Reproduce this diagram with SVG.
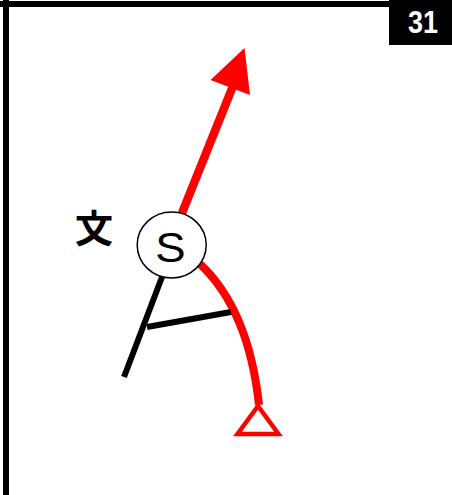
<svg xmlns="http://www.w3.org/2000/svg" width="452" height="495" viewBox="0 0 452 495">
<style>.t{font-family:"Liberation Sans",Arial,sans-serif}</style>
<rect width="452" height="495" fill="#fff"/>
<g id="frame"><rect x="0" y="1" width="452" height="6" fill="#000"/><rect x="3" y="0" width="6" height="495" fill="#000"/></g>
<g id="badge"><rect x="389" y="0" width="63" height="45" fill="#000"/><text class="t" x="408" y="33" font-size="32" font-weight="bold" fill="#fff" textLength="30" lengthAdjust="spacingAndGlyphs">31</text></g>
<g id="connectors" fill="none">
<path d="M182 213L233 86" stroke="#f00" stroke-width="8.5"/>
<polygon points="244.5,48 250,95 210.5,80" fill="#f00"/>
<path d="M200 264C232 294 252 340 259 405" stroke="#f00" stroke-width="8"/>
<path d="M162 277L124 377" stroke="#000" stroke-width="6"/>
<path d="M147 327L231 312" stroke="#000" stroke-width="6"/>
</g>
<g id="marker"><polygon points="258,406 278.5,434 237.5,434" fill="#fff" stroke="#f00" stroke-width="4.5"/></g>
<g id="node-s"><ellipse cx="171.7" cy="245" rx="34.5" ry="33" fill="#fff" stroke="#000" stroke-width="1.5"/><text class="t" x="0" y="0" font-size="43" fill="#000" text-anchor="middle" transform="translate(170.5 261.5) scale(1.06 1)">S</text></g>
<g id="label"><text x="94" y="242" font-size="38" font-weight="bold" fill="#000" text-anchor="middle" font-family="'Noto Sans CJK JP','Noto Sans CJK SC',sans-serif">文</text></g>
</svg>
